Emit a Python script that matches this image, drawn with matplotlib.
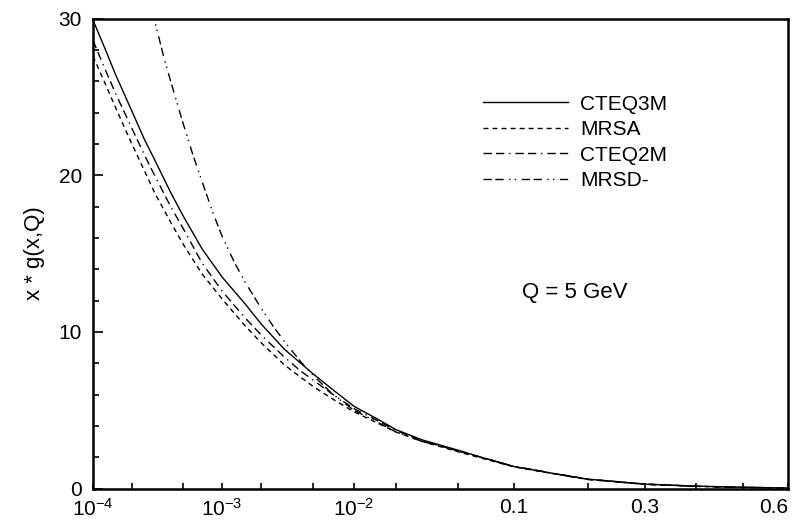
import numpy as np
import matplotlib
matplotlib.use("Agg")
import matplotlib.pyplot as plt

plt.rcParams['font.family'] = ['Liberation Sans', 'DejaVu Sans']
plt.rcParams['mathtext.fontset'] = 'custom'
plt.rcParams['mathtext.rm'] = 'Liberation Sans'
plt.rcParams['mathtext.it'] = 'Liberation Sans'

# ---- data ----
x_main = [1e-4, 1.25e-4, 1.5e-4, 2e-4, 2.5e-4, 3e-4, 4e-4, 5e-4, 7e-4, 1e-3,
          1.5e-3, 2e-3, 3e-3, 4e-3, 5e-3, 7e-3, 1e-2, 1.5e-2, 2e-2, 3e-2, 5e-2,
          0.07, 0.1, 0.15, 0.2, 0.3, 0.4, 0.5, 0.6]
cteq3m = [29.9, 28.0, 26.4, 24.1, 22.3, 21.0, 18.9, 17.4, 15.3, 13.5,
          11.8, 10.5, 8.9, 8.0, 7.3, 6.3, 5.25, 4.4, 3.75, 3.1, 2.45,
          1.95, 1.40, 0.95, 0.60, 0.28, 0.15, 0.08, 0.03]
mrsa = [27.6, 25.8, 24.3, 22.0, 20.3, 18.9, 17.0, 15.6, 13.7, 12.1,
        10.4, 9.3, 7.9, 7.1, 6.5, 5.7, 4.9, 4.15, 3.6, 3.0, 2.35,
        1.9, 1.38, 0.94, 0.58, 0.27, 0.14, 0.07, 0.03]
cteq2m = [28.6, 26.7, 25.2, 23.0, 21.3, 20.0, 18.0, 16.6, 14.4, 12.6,
          10.9, 9.8, 8.4, 7.5, 6.9, 6.0, 5.1, 4.3, 3.7, 3.05, 2.4,
          1.95, 1.40, 0.95, 0.58, 0.27, 0.14, 0.07, 0.03]
x_mrsd = [2.5e-4, 2.75e-4, 3e-4, 3.5e-4, 4e-4, 5e-4, 6e-4, 7e-4, 8.5e-4, 1e-3,
          1.25e-3, 1.5e-3, 2e-3, 2.5e-3, 3e-3, 4e-3, 5e-3, 7e-3, 1e-2, 1.5e-2,
          2e-2, 3e-2, 5e-2, 0.07, 0.1, 0.15, 0.2, 0.3, 0.4, 0.5, 0.6]
mrsd = [33.5, 31.6, 29.9, 27.7, 26.0, 23.3, 21.2, 19.6, 17.6, 16.1,
        14.4, 13.2, 11.5, 10.3, 9.4, 8.1, 7.2, 6.0, 5.0, 4.2,
        3.6, 3.0, 2.4, 1.95, 1.42, 0.97, 0.60, 0.28, 0.15, 0.07, 0.03]

major_ticks = [1e-4, 1e-3, 1e-2, 0.1, 0.3, 0.6]
major_labels = [r'$10^{-4}$', r'$10^{-3}$', r'$10^{-2}$', '0.1', '0.3', '0.6']
minor_ticks = [2e-4, 5e-4, 2e-3, 5e-3, 2e-2, 5e-2, 0.2, 0.4, 0.5]

C = 2.7

def fwd(x):
    x = np.asarray(x, dtype=float)
    return np.log10(np.clip(x, 1e-12, None)) + C * x

def inv(y):
    y = np.asarray(y, dtype=float)
    lo = np.full_like(y, -30.0)
    hi = np.full_like(y, 3.0)
    for _ in range(80):
        mid = 0.5 * (lo + hi)
        val = mid / np.log(10) + C * np.exp(mid)
        big = val > y
        hi = np.where(big, mid, hi)
        lo = np.where(big, lo, mid)
    return np.exp(0.5 * (lo + hi))

fig = plt.figure(figsize=(8.02, 5.23), dpi=100)
ax = fig.add_axes([93 / 802, (523 - 488.5) / 523, 695 / 802, 470 / 523])
ax.set_xscale('function', functions=(fwd, inv))

lw = 1.0
ax.plot(x_main, cteq3m, color='black', lw=lw, ls='-', label='CTEQ3M')
ax.plot(x_main, mrsa, color='black', lw=lw, ls=(0, (3.6, 2.9)), label='MRSA')
ax.plot(x_main, cteq2m, color='black', lw=lw, ls=(0, (6, 3, 6, 3.5, 1, 3.5)), label='CTEQ2M')
ax.plot(x_mrsd, mrsd, color='black', lw=lw, ls=(0, (6, 2.5, 6, 4, 1, 3, 1, 4)), label='MRSD-')

ax.set_xlim(1e-4, 0.6)
ax.set_ylim(0, 30)

ax.set_xticks(major_ticks)
ax.set_xticklabels(major_labels)
ax.set_xticks(minor_ticks, minor=True)
ax.set_yticks([0, 10, 20, 30])
ax.set_yticks(np.arange(0, 31, 2), minor=True)

ax.tick_params(axis='x', which='both', direction='in', length=4, width=1.2,
               labelsize=15, pad=7)
ax.tick_params(axis='y', which='major', direction='in', length=7, width=1.2,
               labelsize=15, pad=8)
ax.tick_params(axis='y', which='minor', direction='in', length=4.5, width=1.2)
labs = ax.get_xticklabels()
labs[-1].set_horizontalalignment('right')

for s in ax.spines.values():
    s.set_linewidth(1.8)

ax.set_ylabel('x * g(x,Q)', fontsize=16, labelpad=10)

ax.legend(loc='upper left', bbox_to_anchor=(0.561, 0.838), frameon=False,
          fontsize=15, handlelength=4.1, handletextpad=0.55, labelspacing=0.31,
          borderpad=0, borderaxespad=0)

ax.text(0.6935, 0.416, 'Q = 5 GeV', transform=ax.transAxes, ha='center',
        va='center', fontsize=16)

fig.savefig('out.png', dpi=100)
